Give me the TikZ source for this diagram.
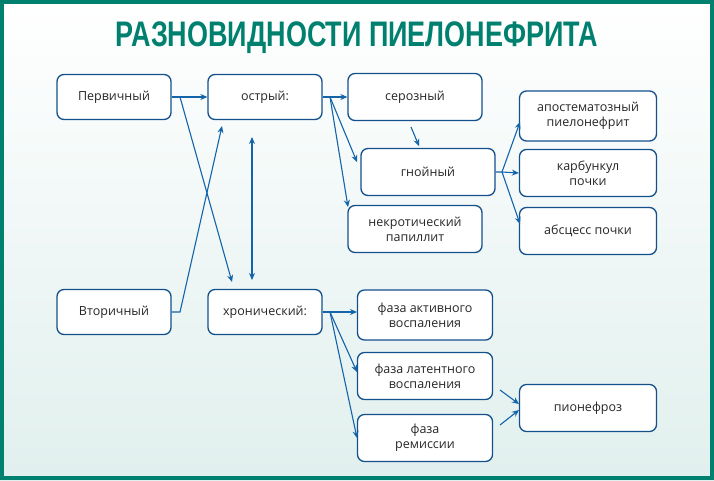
\documentclass[tikz,border=0pt]{standalone}
\usepackage{fontspec}
\setmainfont{Open Sans}
\newfontfamily\titlefont[FakeStretch=0.76]{Liberation Sans}
\usetikzlibrary{arrows.meta}
\definecolor{teal1}{RGB}{0,128,110}
\definecolor{boxb}{RGB}{20,80,140}
\definecolor{arr}{RGB}{20,100,170}
\begin{document}
\begin{tikzpicture}[x=1pt,y=-1pt,
  bx/.style={draw=boxb,line width=1.3pt,rounded corners=7pt,fill=white,minimum width=134pt,minimum height=47pt,align=center,font=\fontsize{12.5}{15}\selectfont,text=black!85},
  sm/.style={bx,minimum width=114pt,minimum height=45pt},
  ar/.style={draw=arr,line width=1.1pt,-{Stealth[length=7pt,width=6pt]}}]
\shade[top color=white,bottom color=teal1!12] (0,0) rectangle (714,480);
\draw[teal1,line width=4pt] (2,2) rectangle (712,478);
\node[text=teal1,font=\titlefont\bfseries\fontsize{35.5}{40}\selectfont] (title) at (357,38) {РАЗНОВИДНОСТИ ПИЕЛОНЕФРИТА};
\node[sm] (p) at (114,97) {Первичный};
\node[sm] (o) at (265,97) {острый:};
\node[bx] (s) at (415,97) {серозный};
\node[bx] (g) at (428,172) {гнойный};
\node[bx] (n) at (415,229) {некротический\\папиллит};
\node[bx,minimum width=137pt,minimum height=50pt] (a1) at (588,116) {апостематозный\\пиелонефрит};
\node[bx,minimum width=137pt] (a2) at (588,173) {карбункул\\почки};
\node[bx,minimum width=137pt] (a3) at (588,231) {абсцесс почки};
\node[sm] (v) at (114,312) {Вторичный};
\node[sm] (h) at (265,312) {хронический:};
\node[bx,minimum width=135pt,minimum height=50pt] (f1) at (425,315) {фаза активного\\воспаления};
\node[bx,minimum width=135pt] (f2) at (425,376) {фаза латентного\\воспаления};
\node[bx,minimum width=135pt] (f3) at (425,438) {фаза\\ремиссии};
\node[bx,minimum width=137pt] (pn) at (588,408) {пионефроз};
\coordinate (pj) at (180,97);
\coordinate (vj) at (180,312);
\coordinate (oj) at (330,97);
\coordinate (hj) at (330,312);
\coordinate (gj) at (502,172);
\draw[ar] (p.east) -- (pj) -- (o.west);
\draw[ar] (pj) -- (232,282);
\draw[ar] (v.east) -- (vj) -- (222,126);
\draw[draw=arr,line width=1.1pt,{Stealth[length=7pt,width=6pt]}-{Stealth[length=7pt,width=6pt]}] (252,137) -- (252,280);
\draw[ar] (o.east) -- (oj) -- (s.west);
\draw[ar] (oj) -- (357,162);
\draw[ar] (oj) -- (348,207);
\draw[ar] (411,127) -- (419,146);
\draw[ar] (g.east) -- (gj) -- (520,122);
\draw[ar] (gj) -- (a2.west);
\draw[ar] (gj) -- (520,224);
\draw[ar] (h.east) -- (hj) -- (357,312);
\draw[ar] (hj) -- (357,372);
\draw[ar] (hj) -- (357,438);
\draw[ar] (500,390) -- (519,404);
\draw[ar] (500,425) -- (519,410);
\end{tikzpicture}
\end{document}
